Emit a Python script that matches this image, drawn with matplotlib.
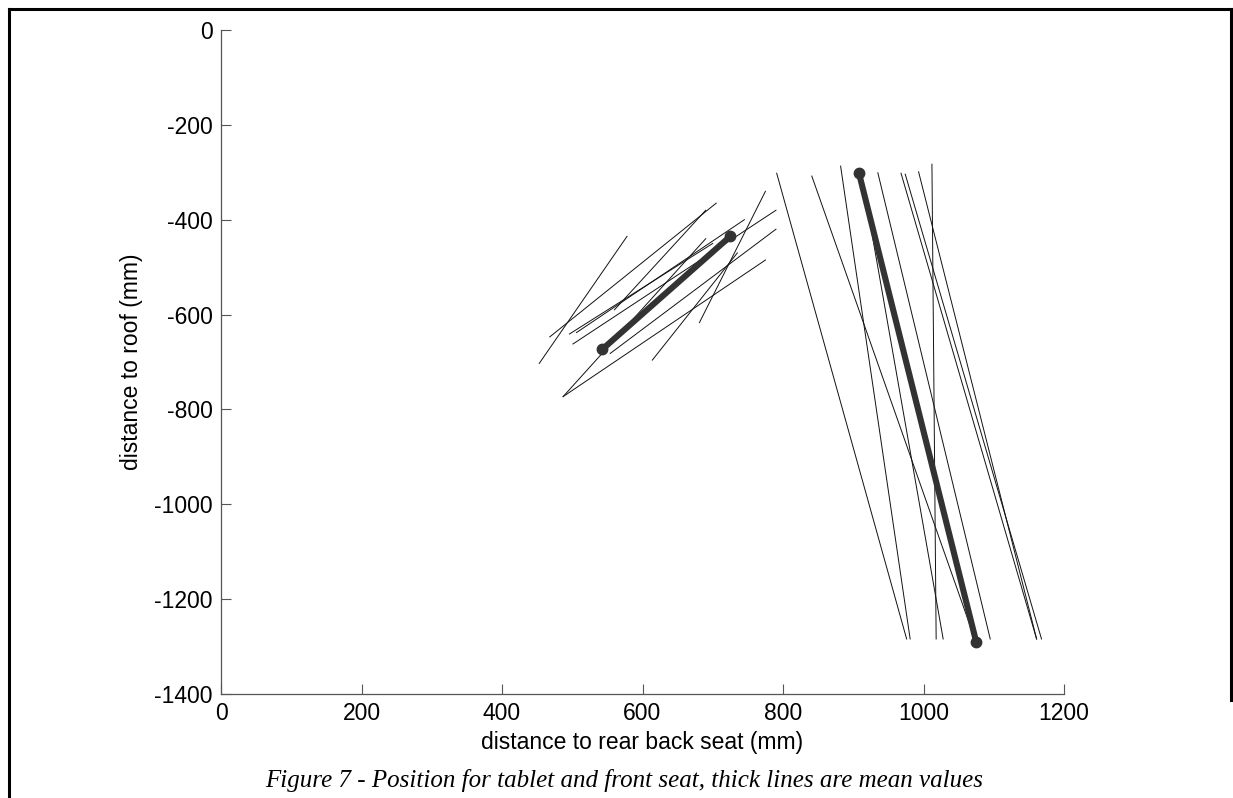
import matplotlib
matplotlib.use("Agg")
import matplotlib.pyplot as plt
from matplotlib.lines import Line2D

# tablet positions: (x start, x end), (y start, y end)
tablet_x = [(453, 578), (487, 775), (487, 690), (468, 705), (496, 700),
            (506, 745), (501, 790), (614, 735), (681, 775), (554, 790),
            (560, 690)]
tablet_y = [(-703, -435), (-773, -485), (-773, -440), (-647, -365), (-641, -450),
            (-638, -400), (-662, -380), (-696, -470), (-617, -340), (-682, -420),
            (-590, -380)]
tablet_mean_x = [543, 725]
tablet_mean_y = [-673, -435]

# front seat positions
seat_x = [(791, 976), (841, 1073), (882, 981), (912, 1028), (935, 1095),
          (968, 1161), (974, 1168), (993, 1161), (1012, 1018)]
seat_y = [(-302, -1284), (-308, -1284), (-287, -1284), (-306, -1284), (-301, -1284),
          (-302, -1284), (-304, -1284), (-299, -1284), (-283, -1284)]
seat_mean_x = [908, 1075]
seat_mean_y = [-301, -1290]

x_ticks = [0, 200, 400, 600, 800, 1000, 1200]
y_ticks = [0, -200, -400, -600, -800, -1000, -1200, -1400]

plt.rcParams["font.family"] = ["Liberation Sans", "DejaVu Sans"]
plt.rcParams["axes.unicode_minus"] = False

fig = plt.figure(figsize=(12.33, 7.98), dpi=100)
ax = fig.add_axes([221 / 1233, 1 - 694 / 798, (1064 - 221) / 1233, (694 - 30) / 798])

for xs, ys in zip(tablet_x + seat_x, tablet_y + seat_y):
    ax.plot(xs, ys, color="#111111", lw=0.7)

for xs, ys in [(tablet_mean_x, tablet_mean_y), (seat_mean_x, seat_mean_y)]:
    ax.plot(xs, ys, color="#333333", lw=4.4, marker="o", markersize=7.5,
            solid_capstyle="round")

ax.set_xlim(0, 1200)
ax.set_ylim(-1400, 0)
ax.set_xticks(x_ticks)
ax.set_yticks(y_ticks)
ax.tick_params(direction="in", length=7, width=0.8, color="#555555",
               labelsize=16.5, pad=6)
for s in ["top", "right"]:
    ax.spines[s].set_visible(False)
for s in ["left", "bottom"]:
    ax.spines[s].set_color("#555555")
    ax.spines[s].set_linewidth(0.9)

ax.set_xlabel("distance to rear back seat (mm)", fontsize=16.5, labelpad=4)
ax.set_ylabel("distance to roof (mm)", fontsize=16.5, labelpad=8)

fig.text(624 / 1233, 1 - 780 / 798,
         "Figure 7 - Position for tablet and front seat, thick lines are mean values",
         ha="center", va="center", fontsize=18, style="italic",
         family=["Liberation Serif", "DejaVu Serif"])

# frame around the figure
frame = dict(color="black", lw=2.2, transform=fig.transFigure)
fig.add_artist(Line2D([9 / 1233, 9 / 1233], [0, 1 - 9 / 798], **frame))
fig.add_artist(Line2D([9 / 1233, 1231 / 1233], [1 - 9 / 798, 1 - 9 / 798], **frame))
fig.add_artist(Line2D([1231 / 1233, 1231 / 1233], [1 - 9 / 798, 1 - 700 / 798], **frame))

fig.savefig("out.png", dpi=100)
